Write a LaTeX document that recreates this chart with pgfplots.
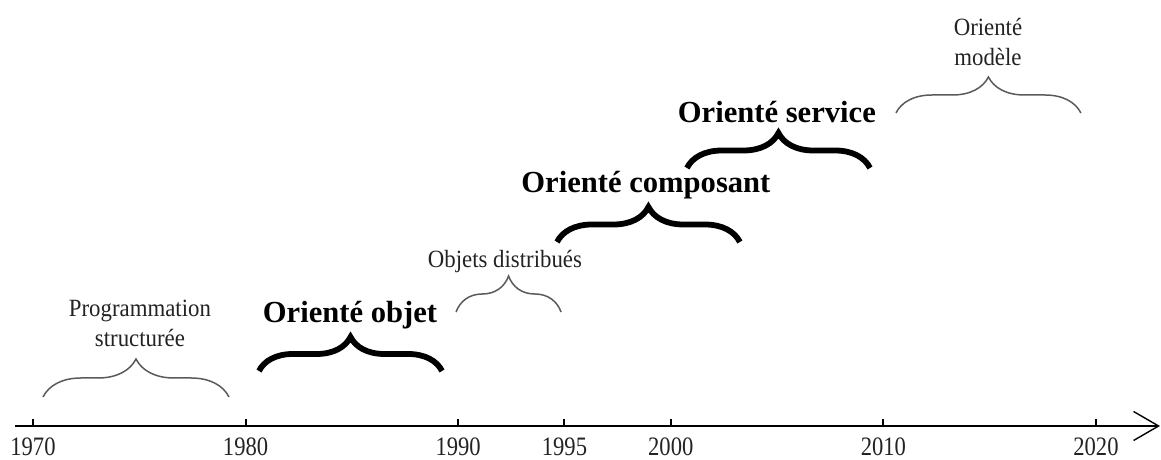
\documentclass[border=0pt]{standalone}
\usepackage{pgfplots}
\pgfplotsset{compat=1.18}
\usepackage{fontspec}
\setmainfont{Liberation Serif}
\newfontfamily\condensed[FakeStretch=0.85]{Liberation Serif}
\newfontfamily\condensedb[FakeStretch=0.92]{Liberation Serif}
\usetikzlibrary{decorations.pathreplacing,arrows.meta}
\definecolor{bracegray}{RGB}{90,90,90}
\definecolor{txtgray}{RGB}{35,35,35}
\tikzset{
  smalltxt/.style={font=\condensedb\fontsize{12.4}{15}\selectfont, text=txtgray, align=center},
  boldtxt/.style={font=\fontsize{15.3}{18}\selectfont\bfseries, text=black},
  graybrace/.style={bracegray, line width=0.75pt, decorate, decoration={brace, amplitude=#1}},
  boldbrace/.style={black, line width=2.9pt, decorate, decoration={brace, amplitude=#1}},
}
\begin{document}
\begin{tikzpicture}
\begin{axis}[
  scale only axis, width=572.5pt, height=213pt,
  xmin=1969.153, xmax=2023.01, ymin=0, ymax=426,
  axis x line=bottom, axis y line=none,
  x axis line style={line width=1pt, -{Straight Barb[length=12.5pt,width=14.5pt,line width=0.7pt]}},
  xtick={1970,1980,1990,1995,2000,2010,2020},
  xticklabels={1970,1980,1990,1995,2000,2010,2020},
  xtick align=inside,
  major tick length=3.5pt,
  xtick style={line width=1pt, black},
  xticklabel style={font=\condensed\fontsize{13.3}{15}\selectfont, text=txtgray, yshift=-2.5pt},
  clip=false, no markers,
]
% periods (start year, end year) at their level
\addplot[graybrace=19pt] coordinates {(1970.47,29) (1979.22,29)};
\addplot[boldbrace=17pt] coordinates {(1980.63,55) (1989.24,55)};
\addplot[graybrace=18pt] coordinates {(1989.90,114) (1994.84,114)};
\addplot[boldbrace=17.5pt] coordinates {(1994.65,184) (2003.25,184)};
\addplot[boldbrace=17.5pt] coordinates {(2000.76,258) (2009.37,258)};
\addplot[graybrace=18pt] coordinates {(2010.59,313) (2019.29,313)};

\node[smalltxt] at (axis cs:1975.03,103) {Programmation\\structurée};
\node[boldtxt] at (axis cs:1984.91,111) {Orienté objet};
\node[smalltxt] at (axis cs:1992.20,164) {Objets distribués};
\node[boldtxt] at (axis cs:1998.83,241) {Orienté composant};
\node[boldtxt] at (axis cs:2004.99,314) {Orienté service};
\node[smalltxt] at (axis cs:2014.92,383.5) {Orienté\\modèle};

\coordinate (bbsw) at (axis cs:1968.448,-34);
\coordinate (bbne) at (axis cs:2023.058,426);
\end{axis}
\pgfresetboundingbox
\path[use as bounding box] (bbsw) rectangle (bbne);
\end{tikzpicture}
\end{document}
